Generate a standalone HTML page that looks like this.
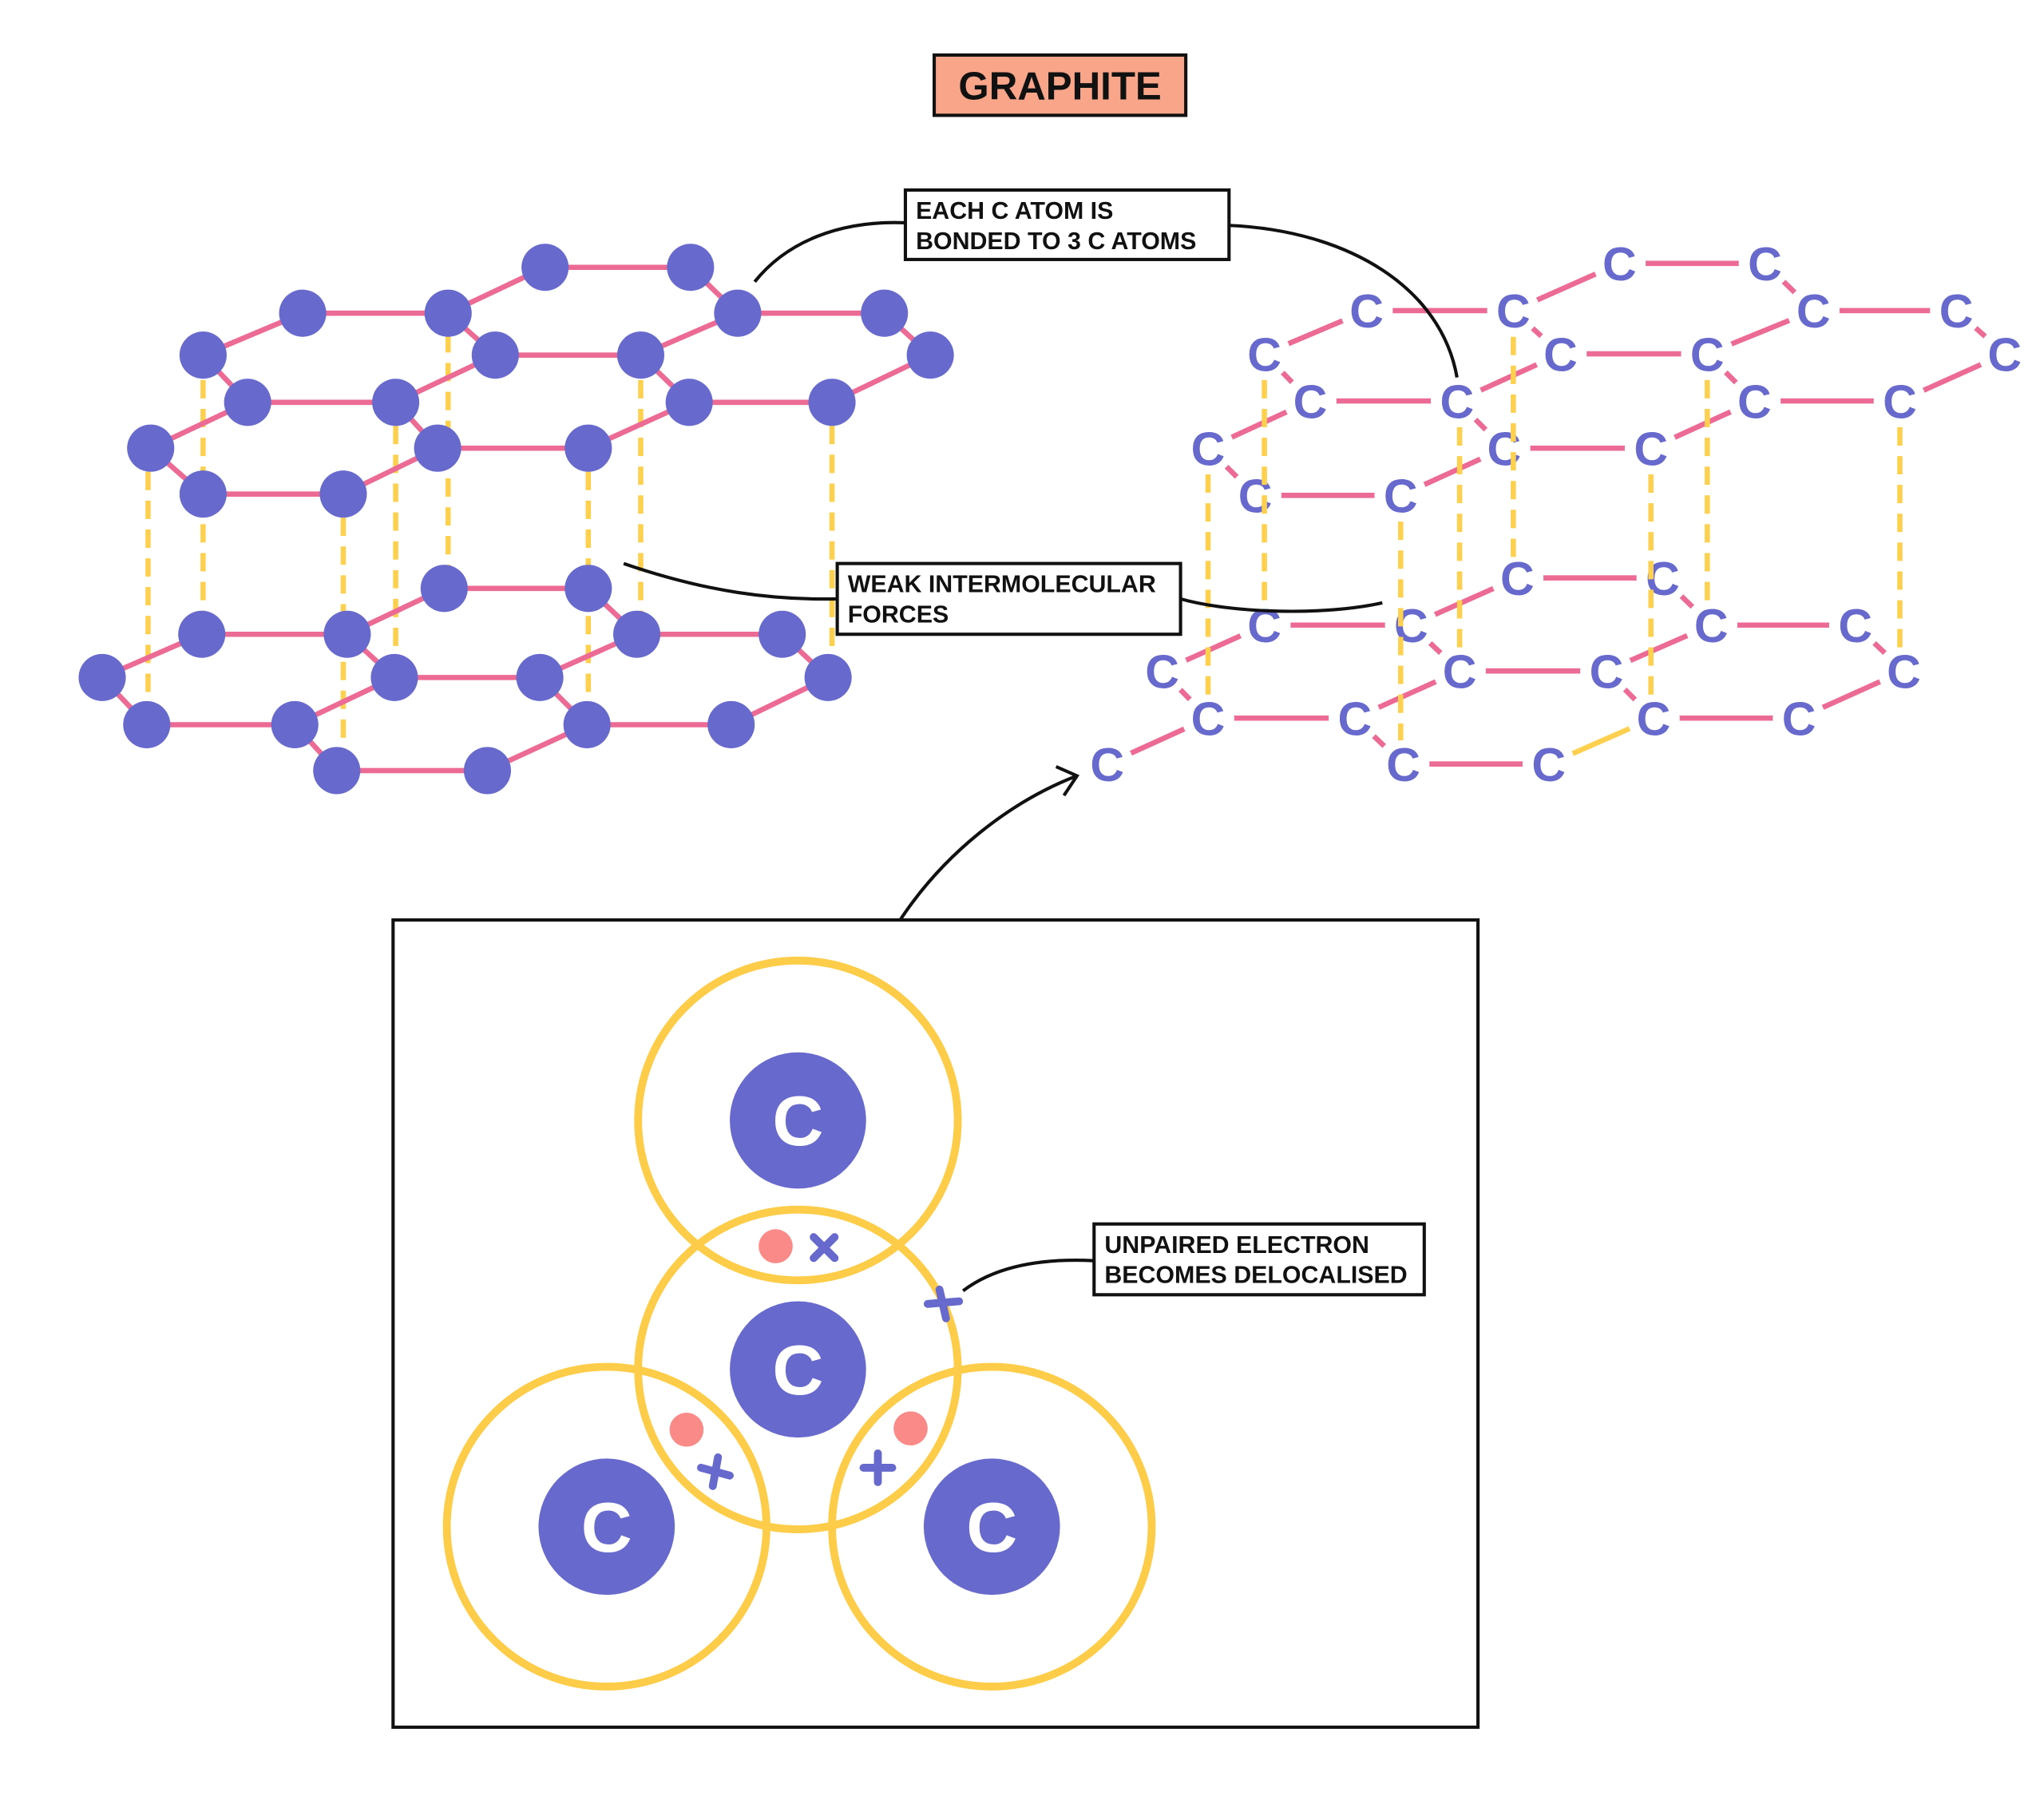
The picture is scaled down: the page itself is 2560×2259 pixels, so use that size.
<!DOCTYPE html>
<html><head><meta charset="utf-8"><style>
html,body{margin:0;padding:0;background:#fff;}
svg{display:block;}
.t{font-family:"Liberation Sans",sans-serif;font-weight:bold;}
</style></head><body>
<svg width="2560" height="2259" viewBox="0 0 1560 1376.6" preserveAspectRatio="none" xmlns="http://www.w3.org/2000/svg">
<rect width="1560" height="1377" fill="#fff"/>
<rect x="713" y="42" width="192" height="46" fill="#f9a58a" stroke="#111" stroke-width="2.5"/>
<text x="809" y="76" text-anchor="middle" class="t" font-size="30" fill="#111">GRAPHITE</text>

<g stroke="#fdd04f" stroke-width="4" stroke-dasharray="14,8">
<line x1="113" y1="360" x2="113" y2="540"/><line x1="155" y1="290" x2="155" y2="470"/>
<line x1="262" y1="395" x2="262" y2="578"/><line x1="302" y1="325" x2="302" y2="505"/>
<line x1="342" y1="255" x2="342" y2="440"/><line x1="449" y1="360" x2="449" y2="540"/>
<line x1="489" y1="290" x2="489" y2="470"/><line x1="635" y1="325" x2="635" y2="505"/>
</g>
<g stroke="#ec6b95" stroke-width="4">
<line x1="416" y1="204" x2="527" y2="204"/><line x1="527" y1="204" x2="563" y2="239"/>
<line x1="563" y1="239" x2="675" y2="239"/><line x1="675" y1="239" x2="710" y2="271"/>
<line x1="342" y1="239" x2="416" y2="204"/><line x1="231" y1="239" x2="342" y2="239"/>
<line x1="155" y1="271" x2="231" y2="239"/><line x1="155" y1="271" x2="189" y2="307"/>
<line x1="189" y1="307" x2="302" y2="307"/><line x1="302" y1="307" x2="378" y2="271"/>
<line x1="378" y1="271" x2="489" y2="271"/><line x1="489" y1="271" x2="563" y2="239"/>
<line x1="342" y1="239" x2="378" y2="271"/><line x1="489" y1="271" x2="526" y2="307"/>
<line x1="526" y1="307" x2="635" y2="307"/><line x1="635" y1="307" x2="710" y2="271"/>
<line x1="302" y1="307" x2="334" y2="342"/><line x1="334" y1="342" x2="449" y2="342"/>
<line x1="449" y1="342" x2="526" y2="307"/><line x1="115" y1="342" x2="189" y2="307"/>
<line x1="115" y1="342" x2="155" y2="377"/><line x1="155" y1="377" x2="262" y2="377"/>
<line x1="262" y1="377" x2="334" y2="342"/>
<line x1="339" y1="449" x2="449" y2="449"/><line x1="449" y1="449" x2="486" y2="484"/>
<line x1="486" y1="484" x2="597" y2="484"/><line x1="597" y1="484" x2="632" y2="517"/>
<line x1="265" y1="484" x2="339" y2="449"/><line x1="154" y1="484" x2="265" y2="484"/>
<line x1="78" y1="517" x2="154" y2="484"/><line x1="78" y1="517" x2="112" y2="553"/>
<line x1="112" y1="553" x2="225" y2="553"/><line x1="225" y1="553" x2="301" y2="517"/>
<line x1="265" y1="484" x2="301" y2="517"/><line x1="301" y1="517" x2="412" y2="517"/>
<line x1="412" y1="517" x2="486" y2="484"/><line x1="412" y1="517" x2="448" y2="553"/>
<line x1="448" y1="553" x2="558" y2="553"/><line x1="558" y1="553" x2="632" y2="517"/>
<line x1="372" y1="588" x2="448" y2="553"/><line x1="257" y1="588" x2="372" y2="588"/>
<line x1="225" y1="553" x2="257" y2="588"/>
</g>
<g fill="#6869cc">
<circle cx="416" cy="204" r="18"/><circle cx="527" cy="204" r="18"/>
<circle cx="231" cy="239" r="18"/><circle cx="342" cy="239" r="18"/><circle cx="563" cy="239" r="18"/><circle cx="675" cy="239" r="18"/>
<circle cx="155" cy="271" r="18"/><circle cx="378" cy="271" r="18"/><circle cx="489" cy="271" r="18"/><circle cx="710" cy="271" r="18"/>
<circle cx="189" cy="307" r="18"/><circle cx="302" cy="307" r="18"/><circle cx="526" cy="307" r="18"/><circle cx="635" cy="307" r="18"/>
<circle cx="115" cy="342" r="18"/><circle cx="334" cy="342" r="18"/><circle cx="449" cy="342" r="18"/>
<circle cx="155" cy="377" r="18"/><circle cx="262" cy="377" r="18"/>
<circle cx="339" cy="449" r="18"/><circle cx="449" cy="449" r="18"/>
<circle cx="154" cy="484" r="18"/><circle cx="265" cy="484" r="18"/><circle cx="486" cy="484" r="18"/><circle cx="597" cy="484" r="18"/>
<circle cx="78" cy="517" r="18"/><circle cx="301" cy="517" r="18"/><circle cx="412" cy="517" r="18"/><circle cx="632" cy="517" r="18"/>
<circle cx="112" cy="553" r="18"/><circle cx="225" cy="553" r="18"/><circle cx="448" cy="553" r="18"/><circle cx="558" cy="553" r="18"/>
<circle cx="257" cy="588" r="18"/><circle cx="372" cy="588" r="18"/>
</g>

<g stroke="#ec6b95" stroke-width="4">
<line x1="1236" y1="201" x2="1347" y2="201"/><line x1="1347" y1="201" x2="1384" y2="237"/>
<line x1="1384" y1="237" x2="1493" y2="237"/><line x1="1493" y1="237" x2="1530" y2="270"/>
<line x1="1155" y1="237" x2="1236" y2="201"/><line x1="1043" y1="237" x2="1155" y2="237"/>
<line x1="965" y1="270" x2="1043" y2="237"/><line x1="965" y1="270" x2="1000" y2="306"/>
<line x1="1000" y1="306" x2="1112" y2="306"/><line x1="1112" y1="306" x2="1191" y2="270"/>
<line x1="1191" y1="270" x2="1303" y2="270"/><line x1="1303" y1="270" x2="1384" y2="237"/>
<line x1="1155" y1="237" x2="1191" y2="270"/><line x1="1303" y1="270" x2="1339" y2="306"/>
<line x1="1339" y1="306" x2="1450" y2="306"/><line x1="1450" y1="306" x2="1530" y2="270"/>
<line x1="1112" y1="306" x2="1148" y2="342"/><line x1="1148" y1="342" x2="1260" y2="342"/>
<line x1="1260" y1="342" x2="1339" y2="306"/><line x1="922" y1="342" x2="1000" y2="306"/>
<line x1="922" y1="342" x2="958" y2="378"/><line x1="958" y1="378" x2="1069" y2="378"/>
<line x1="1069" y1="378" x2="1148" y2="342"/>
<line x1="1158" y1="441" x2="1269" y2="441"/><line x1="1269" y1="441" x2="1306" y2="477"/>
<line x1="1306" y1="477" x2="1416" y2="477"/><line x1="1416" y1="477" x2="1453" y2="512"/>
<line x1="1077" y1="477" x2="1158" y2="441"/><line x1="965" y1="477" x2="1077" y2="477"/>
<line x1="887" y1="512" x2="965" y2="477"/><line x1="887" y1="512" x2="922" y2="548"/>
<line x1="922" y1="548" x2="1034" y2="548"/><line x1="1034" y1="548" x2="1114" y2="512"/>
<line x1="1077" y1="477" x2="1114" y2="512"/><line x1="1114" y1="512" x2="1226" y2="512"/>
<line x1="1226" y1="512" x2="1306" y2="477"/><line x1="1226" y1="512" x2="1262" y2="548"/>
<line x1="1262" y1="548" x2="1373" y2="548"/><line x1="1373" y1="548" x2="1453" y2="512"/>
<line x1="1071" y1="583" x2="1182" y2="583"/><line x1="1034" y1="548" x2="1071" y2="583"/>
<line x1="845" y1="583" x2="922" y2="548"/>
</g>
<line x1="1182" y1="583" x2="1262" y2="548" stroke="#fdd04f" stroke-width="4"/>
<g fill="#fff">
<circle cx="1236" cy="201" r="20"/><circle cx="1347" cy="201" r="20"/><circle cx="1043" cy="237" r="20"/><circle cx="1155" cy="237" r="20"/><circle cx="1384" cy="237" r="20"/><circle cx="1493" cy="237" r="20"/>
<circle cx="965" cy="270" r="20"/><circle cx="1191" cy="270" r="20"/><circle cx="1303" cy="270" r="20"/><circle cx="1530" cy="270" r="20"/>
<circle cx="1000" cy="306" r="20"/><circle cx="1112" cy="306" r="20"/><circle cx="1339" cy="306" r="20"/><circle cx="1450" cy="306" r="20"/>
<circle cx="922" cy="342" r="20"/><circle cx="1148" cy="342" r="20"/><circle cx="1260" cy="342" r="20"/><circle cx="958" cy="378" r="20"/><circle cx="1069" cy="378" r="20"/>
<circle cx="1158" cy="441" r="20"/><circle cx="1269" cy="441" r="20"/><circle cx="965" cy="477" r="20"/><circle cx="1077" cy="477" r="20"/><circle cx="1306" cy="477" r="20"/><circle cx="1416" cy="477" r="20"/>
<circle cx="887" cy="512" r="20"/><circle cx="1114" cy="512" r="20"/><circle cx="1226" cy="512" r="20"/><circle cx="1453" cy="512" r="20"/>
<circle cx="922" cy="548" r="20"/><circle cx="1034" cy="548" r="20"/><circle cx="1262" cy="548" r="20"/><circle cx="1373" cy="548" r="20"/>
<circle cx="1071" cy="583" r="20"/><circle cx="1182" cy="583" r="20"/><circle cx="845" cy="583" r="20"/>
</g>
<g class="t" font-size="36" fill="#6869cc" text-anchor="middle">
<text x="1236" y="214">C</text><text x="1347" y="214">C</text><text x="1043" y="250">C</text><text x="1155" y="250">C</text><text x="1384" y="250">C</text><text x="1493" y="250">C</text>
<text x="965" y="283">C</text><text x="1191" y="283">C</text><text x="1303" y="283">C</text><text x="1530" y="283">C</text>
<text x="1000" y="319">C</text><text x="1112" y="319">C</text><text x="1339" y="319">C</text><text x="1450" y="319">C</text>
<text x="922" y="355">C</text><text x="1148" y="355">C</text><text x="1260" y="355">C</text><text x="958" y="391">C</text><text x="1069" y="391">C</text>
<text x="1158" y="454">C</text><text x="1269" y="454">C</text><text x="965" y="490">C</text><text x="1077" y="490">C</text><text x="1306" y="490">C</text><text x="1416" y="490">C</text>
<text x="887" y="525">C</text><text x="1114" y="525">C</text><text x="1226" y="525">C</text><text x="1453" y="525">C</text>
<text x="922" y="561">C</text><text x="1034" y="561">C</text><text x="1262" y="561">C</text><text x="1373" y="561">C</text>
<text x="1071" y="596">C</text><text x="1182" y="596">C</text><text x="845" y="596">C</text>
</g>
<g stroke="#fdd04f" stroke-width="4" stroke-dasharray="14,8">
<line x1="922" y1="362" x2="922" y2="530"/><line x1="965" y1="290" x2="965" y2="460"/>
<line x1="1069" y1="398" x2="1069" y2="565"/><line x1="1114" y1="326" x2="1114" y2="495"/>
<line x1="1155" y1="257" x2="1155" y2="425"/><line x1="1260" y1="362" x2="1260" y2="530"/>
<line x1="1303" y1="290" x2="1303" y2="460"/><line x1="1450" y1="326" x2="1450" y2="495"/>
</g>

<g fill="none" stroke="#111" stroke-width="2.5">
<path d="M576,215 C600,185 640,168 691,170"/>
<path d="M938,172 C1030,176 1100,220 1112,288"/>
<path d="M476,430 C540,452 590,458 639,457"/>
<path d="M901,457 C940,468 1010,470 1055,460"/>
<path d="M687,702 C720,652 770,612 822,592"/>
<path d="M806,585 L822,592 L812,607"/>
</g>
<rect x="691" y="145" width="247" height="53" fill="#fff" stroke="#111" stroke-width="2.5"/>
<text class="t" font-size="18.5" fill="#111"><tspan x="699" y="167">EACH C ATOM IS</tspan><tspan x="699" y="190">BONDED TO 3 C ATOMS</tspan></text>
<rect x="639" y="430" width="262" height="54" fill="#fff" stroke="#111" stroke-width="2.5"/>
<text class="t" font-size="18.5" fill="#111"><tspan x="647" y="452">WEAK INTERMOLECULAR</tspan><tspan x="647" y="475">FORCES</tspan></text>

<rect x="300" y="702" width="828" height="616" fill="#fff" stroke="#111" stroke-width="2.5"/>
<g fill="none" stroke="#fdcd4a" stroke-width="6">
<circle cx="609" cy="855" r="122"/><circle cx="609" cy="1045" r="122"/>
<circle cx="463" cy="1165" r="122"/><circle cx="757" cy="1165" r="122"/>
</g>
<g fill="#6869cc">
<circle cx="609" cy="855" r="52"/><circle cx="609" cy="1045" r="52"/>
<circle cx="463" cy="1165" r="52"/><circle cx="757" cy="1165" r="52"/>
</g>
<g class="t" font-size="54" fill="#fff" text-anchor="middle">
<text x="609" y="874">C</text><text x="609" y="1064">C</text><text x="463" y="1184">C</text><text x="757" y="1184">C</text>
</g>
<g fill="#f98a87"><circle cx="592" cy="951" r="13"/><circle cx="524" cy="1091" r="13"/><circle cx="695" cy="1090" r="13"/></g>
<g stroke="#6869cc" stroke-width="6" stroke-linecap="round">
<line x1="621" y1="944" x2="637" y2="960"/><line x1="637" y1="944" x2="621" y2="960"/>
<line x1="535" y1="1120" x2="557" y2="1126"/><line x1="548" y1="1112" x2="544" y2="1134"/>
<line x1="659" y1="1120" x2="681" y2="1120"/><line x1="670" y1="1109" x2="670" y2="1131"/>
<line x1="708" y1="995" x2="732" y2="993"/><line x1="717" y1="984" x2="722" y2="1006"/>
</g>
<path d="M735,985 C760,966 795,960 835,962" fill="none" stroke="#111" stroke-width="2.5"/>
<rect x="835" y="934" width="252" height="54" fill="#fff" stroke="#111" stroke-width="2.5"/>
<text class="t" font-size="18.5" fill="#111"><tspan x="843" y="956">UNPAIRED ELECTRON</tspan><tspan x="843" y="979">BECOMES DELOCALISED</tspan></text>
</svg>
</body></html>
